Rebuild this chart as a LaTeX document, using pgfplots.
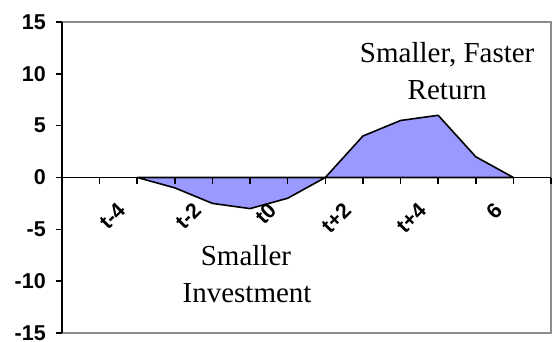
\documentclass[border=0pt]{standalone}
\usepackage{pgfplots}
\pgfplotsset{compat=1.18}
\usepackage{fontspec}
\setmainfont{Liberation Serif}
\newfontfamily\arialfont{Liberation Sans}
\definecolor{fillc}{HTML}{9999FF}
\definecolor{framec}{HTML}{8C8C8C}
\begin{document}
\begin{tikzpicture}
\begin{axis}[
  name=ax,
  scale only axis,
  width=489pt, height=311pt,
  xmin=0, xmax=13, ymin=-15, ymax=15,
  axis x line*=middle, axis y line*=left,
  axis line style={black, line width=1.6pt},
  axis on top,
  tick align=outside,
  major tick length=6pt,
  tick style={black, line width=1.6pt},
  xtick={1,...,13},
  xticklabels={,t-4,,t-2,,t0,,t+2,,t+4,,6,},
  ytick={-15,-10,...,15},
  yticklabels={-15,-10,-5,0,5,10,15},
  xticklabel style={font=\arialfont\bfseries\fontsize{21.5}{24}\selectfont, rotate=45, anchor=east, xshift=-27pt, yshift=-6pt, inner sep=0pt},
  yticklabel style={font=\arialfont\bfseries\fontsize{21.5}{24}\selectfont, inner sep=0pt, xshift=-10pt},
  clip=false,
]
\draw[framec, line width=1.8pt] (rel axis cs:0,1) -- (rel axis cs:1,1) -- (rel axis cs:1,0) -- (rel axis cs:0,0);
\addplot[fill=fillc, draw=black, line width=1.6pt, line join=round] coordinates {
  (2,0) (3,-1) (4,-2.5) (5,-3) (6,-2) (7,0) (8,4) (9,5.5) (10,6) (11,2) (12,0)
} \closedcycle;
\node[anchor=base, font=\fontsize{29}{33}\selectfont] at (axis cs:10.24,11.14) {Smaller, Faster};
\node[anchor=base, font=\fontsize{29}{33}\selectfont] at (axis cs:10.24,7.57) {Return};
\node[anchor=base, font=\fontsize{29}{33}\selectfont] at (axis cs:4.89,-8.53) {Smaller};
\node[anchor=base, font=\fontsize{29}{33}\selectfont] at (axis cs:4.92,-12.1) {Investment};
\end{axis}
\pgfresetboundingbox
\path ([xshift=-62pt,yshift=-8pt]ax.south west) rectangle ([xshift=1pt,yshift=22pt]ax.north east);
\end{tikzpicture}
\end{document}
